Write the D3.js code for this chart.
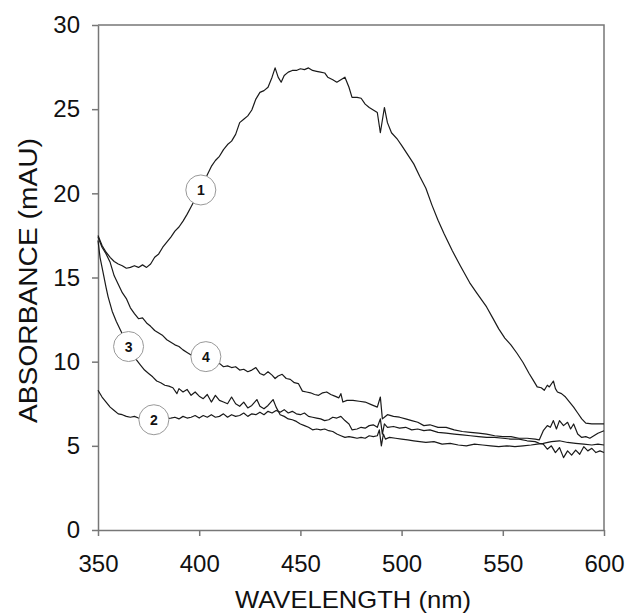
<!DOCTYPE html>
<html>
<head>
<meta charset="utf-8">
<script src="https://cdn.jsdelivr.net/npm/d3@7"></script>
<style>
  body { margin: 0; background: #fff; }
  text { font-family: "Liberation Sans", Arial, sans-serif; }
</style>
</head>
<body>
<div id="chart"></div>
<script>
// Spectra: [wavelength nm, absorbance mAU]
const curve1 = [[350,17.5],[352,16.9],[354,16.5],[356,16.2],[358,15.95],[360,15.8],[362,15.7],[364,15.55],[366,15.6],[368,15.7],[370,15.6],[372,15.75],[374,15.6],[376,15.8],[378,16.2],[380,16.4],[382,16.8],[384,17.1],[386,17.4],[388,17.75],[390,18.0],[392,18.35],[394,18.75],[396,19.2],[400,20.1],[404,21.1],[406,21.6],[408,21.95],[410,22.2],[412,22.6],[414,22.9],[416,23.1],[418,23.5],[420,24.2],[422,24.4],[424,24.6],[426,24.95],[428,25.6],[430,26.0],[432,26.1],[434,26.3],[436,26.9],[437.5,27.45],[439,26.9],[440.5,26.6],[442,27.0],[444,27.2],[446,27.3],[448,27.3],[450,27.4],[452,27.35],[454,27.45],[456,27.3],[458,27.25],[460,27.2],[462,27.15],[463.5,26.9],[466,26.75],[468,26.6],[470,26.75],[472,26.9],[474,26.3],[475.5,25.7],[478,25.7],[480,25.65],[482,25.3],[484,25.1],[486,24.95],[488,24.8],[489.5,23.6],[491.5,25.1],[493,24.2],[495,23.6],[498,23.2],[500,22.85],[503,22.3],[506,21.75],[509,21.0],[512,20.3],[515,19.3],[518,18.4],[521,17.6],[525,16.6],[529,15.7],[533.6,14.7],[537,14.1],[542,13.25],[545,12.6],[548,11.95],[551,11.4],[554,11.0],[557,10.5],[560,9.95],[563,9.3],[565,8.9],[567,8.5],[569,8.45],[570.5,8.3],[572,8.6],[573,8.5],[575,8.85],[576,8.4],[577,8.2],[579,8.1],[581,7.9],[583,7.6],[585,7.3],[587,6.95],[589,6.6],[591,6.35],[594,6.3],[597,6.3],[600,6.3]];

const curve2 = [[350,8.3],[352,7.9],[354,7.6],[356,7.3],[358,7.1],[360,6.9],[362,6.85],[364,6.75],[366,6.7],[368,6.75],[370,6.65],[372,6.6],[374,6.7],[376,6.55],[380,6.6],[386,6.65],[388,6.7],[390,6.6],[392,6.75],[394,6.65],[396,6.7],[398,6.8],[400,6.65],[402,6.8],[404,6.7],[406,6.85],[408,6.7],[410,6.75],[412,6.9],[414,6.7],[416,6.85],[418,6.75],[420,6.8],[422,6.95],[424,6.75],[426,6.9],[428,6.85],[430,7.0],[432,6.85],[434,7.05],[436,6.95],[438,7.1],[440,7.0],[442,7.15],[444,6.95],[446,7.05],[448,6.9],[450,6.85],[452,6.95],[454,6.75],[456,6.7],[458,6.65],[460,6.6],[462,6.5],[464,6.55],[466,6.7],[468,6.65],[470,6.75],[472,6.5],[474,6.3],[475.5,5.95],[478,6.0],[480,6.1],[482,6.05],[484,6.2],[486,6.25],[488,6.1],[489.5,6.6],[490.5,5.7],[491.5,6.3],[493,6.1],[496,6.15],[499,6.05],[502,6.1],[505,5.95],[508,6.0],[511,5.9],[514,5.95],[518,5.8],[522,5.75],[526,5.7],[530,5.65],[534,5.6],[538,5.55],[542,5.5],[546,5.5],[550,5.45],[554,5.4],[558,5.4],[562,5.3],[566,5.25],[568,5.15],[570,5.1],[572,4.8],[574,5.0],[576,4.6],[578,4.9],[580,4.3],[582,4.7],[584,4.45],[586,4.75],[588,4.5],[590,4.95],[592,4.7],[594,4.85],[596,4.6],[598,4.7],[600,4.6]];

const curve3 = [[350,17.2],[351,16.2],[352.5,15.3],[354,14.4],[355,13.85],[357,13.0],[359,12.4],[361,11.9],[363,11.4],[365,10.9],[367,10.5],[369,10.1],[371,9.8],[373,9.5],[375,9.3],[377,9.1],[379,8.85],[381,8.75],[383,8.6],[385,8.55],[387,8.45],[389,8.1],[390,8.4],[392,8.2],[394,8.35],[396,8.0],[398,8.2],[400,7.95],[402,7.8],[404,8.05],[406,7.6],[408,8.0],[410,7.7],[412,7.6],[414,7.5],[416,7.9],[418,7.5],[420,7.35],[422,7.6],[424,7.25],[426,7.4],[428.5,7.75],[430,7.35],[432,7.2],[434,7.4],[436.5,7.75],[438,7.3],[440,6.85],[442,6.75],[444,6.6],[446,6.55],[448,6.45],[450,6.3],[452,6.2],[454,6.1],[456,5.95],[458,6.0],[460,5.95],[462,6.0],[464,5.9],[466,5.85],[468,5.7],[470,5.6],[472,5.5],[474,5.55],[476,5.5],[478,5.45],[480,5.5],[482,5.45],[484,5.6],[486,5.55],[488,5.6],[489,5.95],[490,5.0],[491,5.7],[492,5.4],[494,5.5],[497,5.45],[500,5.4],[503,5.35],[506,5.3],[509,5.25],[512,5.2],[516,5.25],[520,5.1],[524,5.15],[528,5.05],[532,5.0],[536,5.1],[540,5.05],[544,5.0],[548,4.95],[552,5.0],[556,4.95],[560,5.0],[564,5.05],[567,5.1],[570,5.15],[574,5.25],[578,5.3],[582,5.2],[586,5.15],[590,5.1],[594,5.05],[597,5.1],[600,5.05]];

const curve4 = [[350,17.4],[352,16.8],[354,16.4],[356,15.9],[358,15.1],[360,14.6],[362,14.1],[364,13.75],[366,13.2],[368,12.85],[370,12.55],[372,12.6],[374,12.3],[376,12.1],[378,11.85],[380,11.7],[382,11.55],[384,11.3],[386,11.15],[388,11.0],[390,10.9],[392,10.7],[394,10.55],[396,10.4],[400,10.3],[404,10.15],[408,9.85],[410,9.9],[412,9.7],[414,9.75],[416,9.65],[418,9.7],[420,9.5],[422,9.55],[424,9.4],[426,9.5],[428,9.65],[430,9.3],[432,9.2],[434,9.4],[436,9.2],[437.5,9.0],[439,9.15],[441,9.25],[443,9.0],[445,8.95],[447,8.75],[449,8.7],[451,8.25],[453,8.2],[455,8.15],[457,8.05],[459,8.0],[461,8.15],[463,8.2],[465,8.05],[467,7.95],[469,7.85],[470,8.1],[471,7.6],[473,7.7],[476,7.7],[479,7.65],[482,7.6],[485,7.45],[488,7.3],[489.5,7.9],[490.5,6.6],[491.5,6.7],[493,6.85],[496,6.75],[499,6.7],[502,6.6],[505,6.5],[508,6.4],[511,6.2],[514,6.25],[518,6.1],[522,6.1],[526,5.95],[530,5.85],[534,5.8],[538,5.75],[542,5.7],[546,5.6],[550,5.55],[554,5.55],[558,5.45],[562,5.45],[566,5.4],[568,5.35],[570,5.9],[572,6.2],[573.5,6.1],[575,6.5],[576.5,6.0],[578,6.5],[580,6.2],[582,6.4],[583.5,6.0],[585,6.3],[587,5.7],[589,5.5],[591,5.55],[593,5.45],[595,5.6],[597,5.75],[600,5.9]];

const xTicks = [350, 400, 450, 500, 550, 600];
const yTicks = [0, 5, 10, 15, 20, 25, 30];

// Circled curve numbers: [label, wavelength, absorbance]
const curveLabels = [["1", 400.8, 20.2], ["2", 377.6, 6.55], ["3", 365.1, 10.9], ["4", 403.3, 10.3]];

const width = 626, height = 615;
const margin = {top: 25, right: 22, bottom: 85, left: 98};
const innerW = width - margin.left - margin.right;
const innerH = height - margin.top - margin.bottom;

const svg = d3.select("#chart")
    .append("svg")
    .attr("width", width)
    .attr("height", height);

const g = svg.append("g")
    .attr("transform", "translate(" + margin.left + "," + margin.top + ")");

const xScale = d3.scaleLinear().domain([350, 600]).range([0, innerW]);
const yScale = d3.scaleLinear().domain([0, 30]).range([innerH, 0]);

const axisColor = "#777";

// Frame (top and right)
g.append("path")
    .attr("d", "M0,0H" + innerW + "V" + innerH)
    .attr("fill", "none")
    .attr("stroke", axisColor)
    .attr("stroke-width", 1.5);

// Axes
const xAxis = g.append("g")
    .attr("transform", "translate(0," + innerH + ")")
    .call(d3.axisBottom(xScale).tickValues(xTicks).tickSize(6).tickPadding(19).tickSizeOuter(0));

const yAxis = g.append("g")
    .call(d3.axisLeft(yScale).tickValues(yTicks).tickSize(6).tickPadding(12).tickSizeOuter(0));

[xAxis, yAxis].forEach(a => {
    a.select(".domain").attr("stroke", axisColor).attr("stroke-width", 1.5);
    a.selectAll(".tick line").attr("stroke", axisColor).attr("stroke-width", 1.5);
    a.selectAll(".tick text")
        .attr("fill", "#111")
        .style("font-size", "24px")
        .style("font-family", "'Liberation Sans', Arial, sans-serif");
});

// Axis titles
svg.append("text")
    .attr("x", 353)
    .attr("y", 608)
    .attr("text-anchor", "middle")
    .attr("textLength", 236)
    .attr("lengthAdjust", "spacingAndGlyphs")
    .style("font-size", "24px")
    .attr("fill", "#111")
    .text("WAVELENGTH (nm)");

svg.append("text")
    .attr("transform", "translate(37,280.5) rotate(-90)")
    .attr("text-anchor", "middle")
    .attr("textLength", 285)
    .attr("lengthAdjust", "spacingAndGlyphs")
    .style("font-size", "25px")
    .attr("fill", "#111")
    .text("ABSORBANCE (mAU)");

// Spectra
const line = d3.line()
    .x(d => xScale(d[0]))
    .y(d => yScale(d[1]));

g.selectAll(".spectrum")
    .data([curve1, curve2, curve3, curve4])
    .enter()
    .append("path")
    .attr("class", "spectrum")
    .attr("d", line)
    .attr("fill", "none")
    .attr("stroke", "#1a1a1a")
    .attr("stroke-width", 1.2)
    .attr("stroke-linejoin", "round");

// Circled labels
const labels = g.selectAll(".curve-label")
    .data(curveLabels)
    .enter()
    .append("g")
    .attr("class", "curve-label")
    .attr("transform", d => "translate(" + xScale(d[1]) + "," + yScale(d[2]) + ")");

labels.append("circle")
    .attr("r", 15)
    .attr("fill", "#fff")
    .attr("stroke", "#999")
    .attr("stroke-width", 1);

labels.append("text")
    .attr("text-anchor", "middle")
    .attr("dy", "0.36em")
    .style("font-size", "14px")
    .style("font-weight", "bold")
    .attr("fill", "#111")
    .text(d => d[0]);
</script>
</body>
</html>
